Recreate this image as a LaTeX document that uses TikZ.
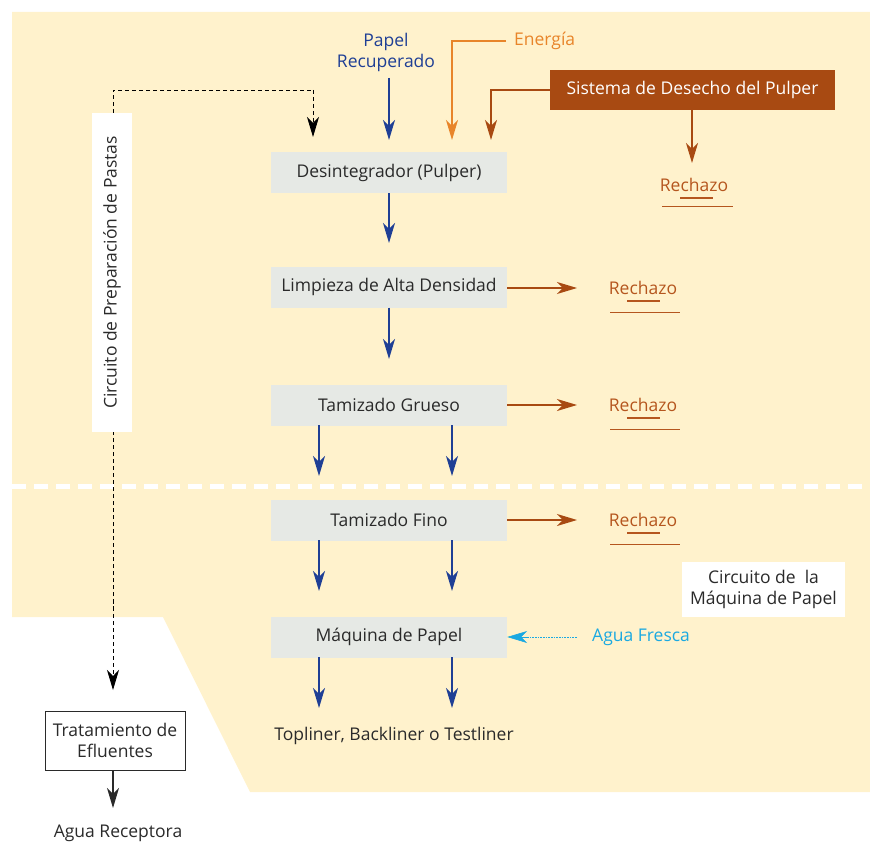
\documentclass[tikz,border=0pt]{standalone}
\usepackage{fontspec}
\setmainfont{Open Sans}
\usetikzlibrary{arrows.meta}
\definecolor{bgyel}{HTML}{FFF2CC}
\definecolor{boxgray}{HTML}{E6E9E5}
\definecolor{fblue}{HTML}{1F3F95}
\definecolor{forange}{HTML}{E8852A}
\definecolor{frust}{HTML}{A84A12}
\definecolor{frej}{HTML}{B5561E}
\definecolor{fcyan}{HTML}{1BA9E1}
\definecolor{ftext}{HTML}{2A2A2A}
\tikzset{
  x=1pt,y=-1pt,
  every node/.style={font=\fontsize{17.5}{21}\selectfont, text=ftext, inner sep=0pt},
  proc/.style={fill=boxgray, minimum width=236pt, minimum height=41pt},
  tip/.style={-{Stealth[length=20pt,width=12pt,inset=6pt]}},
  blueflow/.style={tip, draw=fblue, line width=1.3pt},
  rustflow/.style={tip, draw=frust, line width=1.3pt},
  rej/.style={text=frej},
  rejline/.style={draw=frej, line width=1.2pt},
  circdash/.style={line width=0.9pt, dash pattern=on 4pt off 3pt},
}
\begin{document}
\begin{tikzpicture}
\useasboundingbox (0,0) rectangle (870,845);
% background
\fill[bgyel] (12,12) -- (870,12) -- (870,792) -- (250,792) -- (163,617) -- (12,617) -- cycle;
\draw[white, line width=5pt, dash pattern=on 14pt off 8pt] (12,486) -- (870,486);

% dashed black circuit line
\coordinate (dtop) at (113,90);
\coordinate (dcorner) at (313,90);
\coordinate (dlow) at (113,690);
\draw[circdash] (113,610) -- (dtop) -- (dcorner);
\draw[circdash, tip] (dcorner) -- (313,137);
\draw[circdash, tip] (113,600) -- (dlow);
\node[fill=white, minimum width=40pt, minimum height=319pt] (circ) at (112,272.5) {};
\node[rotate=90] at (circ.center) {Circuito de Preparación de Pastas};

% process boxes
\node[proc] (pulper) at (389,172.5) {Desintegrador (Pulper)};
\node[proc] (limp) at (389,287) {Limpieza de Alta Densidad};
\node[proc] (tg) at (389,405) {Tamizado Grueso};
\node[proc] (tf) at (389,520) {Tamizado Fino};
\node[proc] (maq) at (389,637) {Máquina de Papel};

% inputs
\node[text=fblue, align=center] (papel) at (386,52) {Papel\\Recuperado};
\coordinate (papelb) at (389,78);
\draw[blueflow] (papelb) -- (389,140);

\node[text=forange, anchor=west] (energia) at (514,41) {Energía};
\draw[tip, draw=forange, line width=1.3pt] ([xshift=-8pt]energia.west) -- (452,41) -- (452,140);

\node[fill=frust, text=white, minimum width=285pt, minimum height=40pt] (sist) at (692.5,90) {Sistema de Desecho del Pulper};
\draw[rustflow] (sist.west) -- (491,90) -- (491,140);
\coordinate (rz0) at (692,163);
\draw[rustflow] (sist.south -| rz0) -- (rz0);
\node[rej] (r0) at (694,185) {Rechazo};
\draw[rejline] (680,198) -- (713,198);
\draw[rejline] (662,206.5) -- (733,206.5);

% main flow
\draw[blueflow] (pulper.south) -- (389,243);
\draw[blueflow] (limp.south) -- (389,359);
\draw[blueflow] (319,425) -- (319,476);
\draw[blueflow] (452,425) -- (452,476);
\draw[blueflow] (319,540) -- (319,591);
\draw[blueflow] (452,540) -- (452,591);
\draw[blueflow] (319,657) -- (319,708);
\draw[blueflow] (452,657) -- (452,708);

% rechazo side outputs
\foreach \yy/\nm in {288/r1,405/r2,520/r3}{
  \coordinate (a\nm) at (577,\yy);
  \draw[rustflow] (507,\yy) -- (a\nm);
  \node[rej] (\nm) at (643,\yy) {Rechazo};
  \draw[rejline] (627,\yy+13) -- (660,\yy+13);
  \draw[rejline] (610,\yy+24.5) -- (680,\yy+24.5);
}

% circuito maquina
\node[fill=white, minimum width=163pt, minimum height=55pt, align=center] (cmaq) at (763.5,589.5) {Circuito de \ la\\Máquina de Papel};

% agua fresca
\node[text=fcyan, anchor=west] (agua) at (592,637) {Agua Fresca};
\draw[densely dotted, draw=fcyan, line width=0.6pt] (577,637) -- (528,637);
\draw[tip, draw=fcyan, line width=0.6pt] (528,637) -- (maq.east);

\node (top) at (394,736) {Topliner, Backliner o Testliner};

% tratamiento
\node[draw=ftext, line width=0.7pt, fill=white, minimum width=140pt, minimum height=59pt, align=center] (trat) at (115,740.5) {Tratamiento de\\Efluentes};
\draw[tip, draw=ftext, line width=1.3pt] (trat.south -| 113,0) -- (113,808);
\node (rec) at (118,833) {Agua Receptora};
\end{tikzpicture}
\end{document}
